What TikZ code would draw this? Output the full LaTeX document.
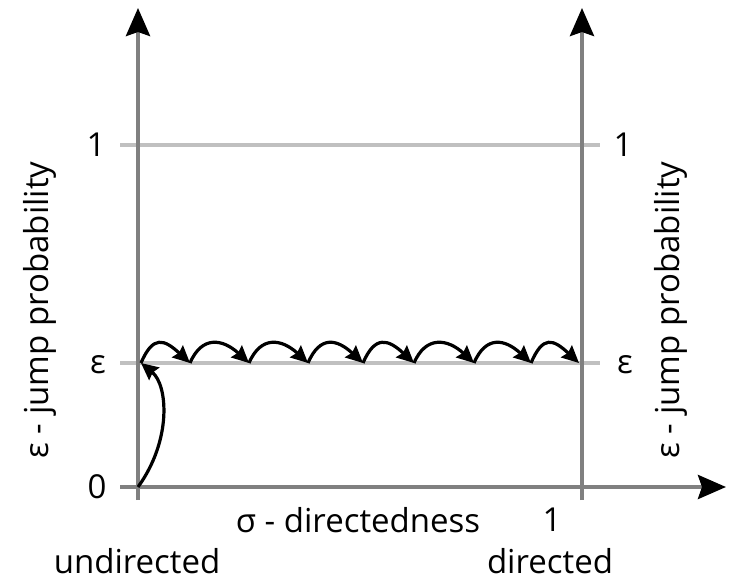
\documentclass[tikz,border=0pt]{standalone}
\usepackage{fontspec}
\setmainfont{Open Sans}
\usetikzlibrary{arrows.meta}
\definecolor{axisgray}{HTML}{808080}
\definecolor{gridgray}{HTML}{C0C0C0}
\begin{document}
\begin{tikzpicture}[x=1pt,y=-1pt,
  lbl/.style={inner sep=0pt,font=\fontsize{33}{38}\selectfont},
  axisline/.style={draw=axisgray,line width=4pt,-{Stealth[length=28pt,width=24pt,inset=4pt,fill=black,color=black]}},
  gridline/.style={draw=gridgray,line width=3.5pt},
  jump/.style={draw=black,line width=3.2pt,-{Stealth[length=17pt,width=16pt,inset=2pt]}}]
\useasboundingbox (0,0) rectangle (731,583);
% coordinates
\coordinate (Lbot) at (138,500);
\coordinate (Ltop) at (138,8);
\coordinate (Rbot) at (582,500);
\coordinate (Rtop) at (582,8);
\coordinate (Hl) at (120,487);
\coordinate (Hr) at (726,487);
\coordinate (G1l) at (120,145);
\coordinate (G1r) at (600,145);
\coordinate (Gel) at (120,363);
\coordinate (Ger) at (600,363);
\coordinate (O) at (138,487);
% grid lines
\draw[gridline] (G1l) -- (G1r);
\draw[gridline] (Gel) -- (Ger);
% axes
\draw[axisline] (Lbot) -- (Ltop);
\draw[axisline] (Rbot) -- (Rtop);
\draw[axisline] (Hl) -- (Hr);
% jump points
\coordinate (p0) at (141,363);
\coordinate (p1) at (190,363);
\coordinate (p2) at (249,363);
\coordinate (p3) at (308,363);
\coordinate (p4) at (363,363);
\coordinate (p5) at (414,363);
\coordinate (p6) at (474,363);
\coordinate (p7) at (531,363);
\coordinate (p8) at (579,363);
% curve from origin
\draw[jump] (O) .. controls (172,440) and (168,385) .. (p0);
% wavy arcs
\foreach \a/\b in {p0/p1,p1/p2,p2/p3,p3/p4,p4/p5,p5/p6,p6/p7,p7/p8}{
  \draw[jump] (\a) .. controls ([shift={(12,-28)}]\a) and ([shift={(-26,-24)}]\b) .. (\b);
}
% labels
\node[lbl] (l1) at (96,145) {1};
\node[lbl] (r1) at (623,145) {1};
\node[lbl] (le) at (98,365) {ε};
\node[lbl] (re) at (625,365) {ε};
\node[lbl] (l0) at (97,487) {0};
\node[lbl,anchor=base] (sig) at (358,532) {σ - directedness};
\node[lbl,anchor=base] (s1) at (552,531) {1};
\node[lbl,anchor=base] (und) at (137,573) {undirected};
\node[lbl,anchor=base] (dir) at (550,573) {directed};
\node[lbl,rotate=90] (lyl) at (40,310) {ε - jump probability};
\node[lbl,rotate=90] (ryl) at (671,310) {ε - jump probability};
\end{tikzpicture}
\end{document}
